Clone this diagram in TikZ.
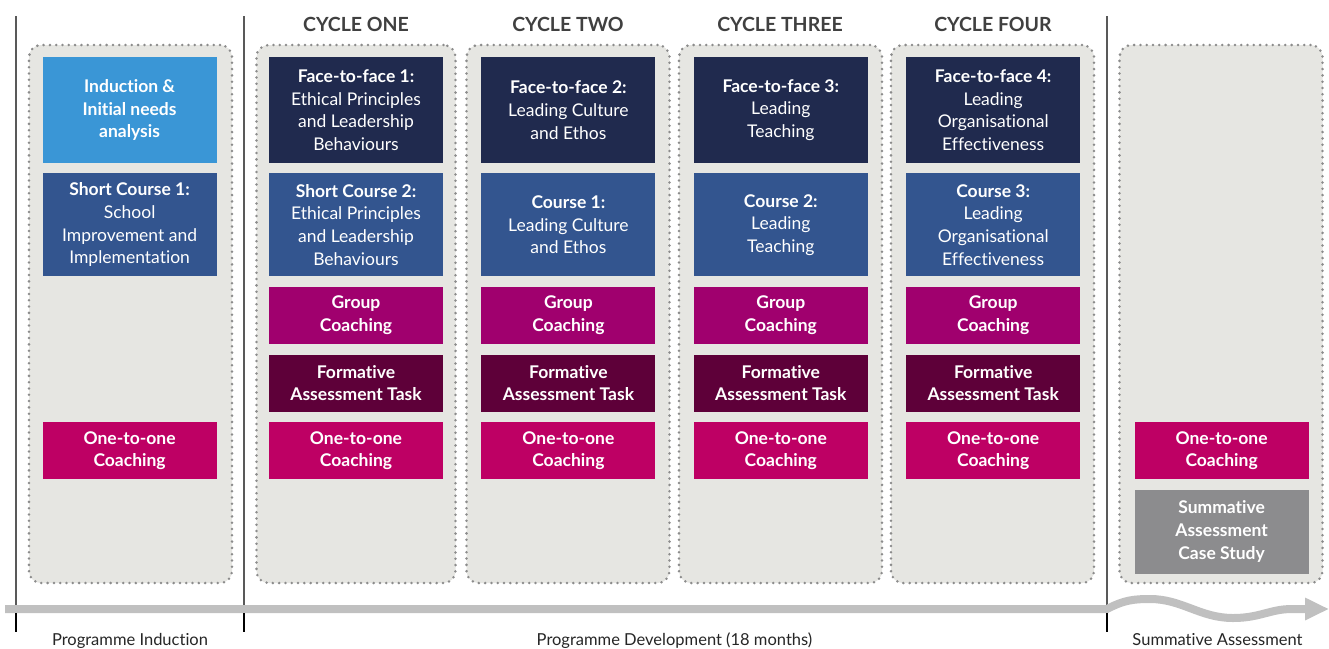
\documentclass[tikz,border=0pt]{standalone}
\usepackage{fontspec}
\setmainfont{Lato}[Ligatures=NoCommon]
\usetikzlibrary{positioning, arrows.meta}

\definecolor{inductblue}{HTML}{3A96D6}
\definecolor{facenavy}{HTML}{202A4E}
\definecolor{courseblue}{HTML}{33558F}
\definecolor{groupmag}{HTML}{A0006E}
\definecolor{formplum}{HTML}{5E0039}
\definecolor{onemag}{HTML}{BE0064}
\definecolor{summgray}{HTML}{8C8C8E}
\definecolor{panelgray}{HTML}{E6E6E2}
\definecolor{dotgray}{HTML}{8C8C8C}
\definecolor{bargray}{HTML}{C0C0C0}
\definecolor{headgray}{HTML}{404040}

\begin{document}
\begin{tikzpicture}[x=1pt, y=-1pt,
      panelnode/.style={rectangle, rounded corners=12pt, fill=panelgray, draw=dotgray, line width=2.8pt, dash pattern=on 0pt off 6.3pt, line cap=round, minimum width=203pt, minimum height=538pt},
      boxnode/.style={rectangle, text=white, inner sep=0pt, minimum width=174pt, align=center, font=\fontsize{17.5}{22.7}\selectfont},
      inductnode/.style={boxnode, fill=inductblue, minimum height=106pt},
      facenode/.style={boxnode, fill=facenavy, minimum height=106pt},
      coursenode/.style={boxnode, fill=courseblue, minimum height=103pt},
      groupnode/.style={boxnode, fill=groupmag, minimum height=57pt},
      formnode/.style={boxnode, fill=formplum, minimum height=57pt},
      onenode/.style={boxnode, fill=onemag, minimum height=57pt},
      summnode/.style={boxnode, fill=summgray, minimum height=84pt},
      headnode/.style={text=headgray, font=\fontsize{19.5}{22}\selectfont\bfseries},
      phasenode/.style={text=black!85, anchor=base, font=\fontsize{16.5}{18}\selectfont},
      timeline/.style={draw=bargray, line width=8pt, -{Triangle[length=24pt, width=21pt]}},
      ]
      \useasboundingbox[fill=white] (0,0) rectangle (1329,648);

      %Panels
      \node[panelnode] (panel0) at (130.5,314) {};
      \node[panelnode, minimum width=199pt] (panel1) at (356,314) {};
      \node[panelnode] (panel2) at (568,314) {};
      \node[panelnode] (panel3) at (780.5,314) {};
      \node[panelnode] (panel4) at (992.5,314) {};
      \node[panelnode] (panel5) at (1221,314) {};

      %Headings
      \node[headnode] (head1) at (356,24) {CYCLE ONE};
      \node[headnode] (head2) at (568,24) {CYCLE TWO};
      \node[headnode] (head3) at (780,24) {CYCLE THREE};
      \node[headnode] (head4) at (993,24) {CYCLE FOUR};

      %Nodes
      \node[facenode] (face1) at (356,110) {\textbf{Face-to-face 1:}\\Ethical Principles\\and Leadership\\Behaviours};
      \node[facenode] (face2) [right=38pt of face1] {\textbf{Face-to-face 2:}\\Leading Culture\\and Ethos};
      \node[facenode] (face3) [right=38pt of face2] {\textbf{Face-to-face 3:}\\Leading\\Teaching};
      \node[facenode] (face4) [right=38pt of face3] {\textbf{Face-to-face 4:}\\Leading\\Organisational\\Effectiveness};
      \node[inductnode] (induct) [left=52pt of face1] {\textbf{Induction \&}\\\textbf{Initial needs}\\\textbf{analysis}};

      \node[coursenode] (short2) [below=10pt of face1] {\textbf{Short Course 2:}\\Ethical Principles\\and Leadership\\Behaviours};
      \node[coursenode] (course1) [below=10pt of face2] {\textbf{Course 1:}\\Leading Culture\\and Ethos};
      \node[coursenode] (course2) [below=10pt of face3] {\textbf{Course 2:}\\Leading\\Teaching};
      \node[coursenode] (course3) [below=10pt of face4] {\textbf{Course 3:}\\Leading\\Organisational\\Effectiveness};
      \node[coursenode] (short1) [left=52pt of short2] {\textbf{Short Course 1:}\\School\\Improvement and\\Implementation};

      \node[groupnode] (group1) [below=10pt of short2] {\textbf{Group}\\\textbf{Coaching}};
      \node[groupnode] (group2) [below=10pt of course1] {\textbf{Group}\\\textbf{Coaching}};
      \node[groupnode] (group3) [below=10pt of course2] {\textbf{Group}\\\textbf{Coaching}};
      \node[groupnode] (group4) [below=10pt of course3] {\textbf{Group}\\\textbf{Coaching}};

      \node[formnode] (form1) [below=10.5pt of group1] {\textbf{Formative}\\\textbf{Assessment Task}};
      \node[formnode] (form2) [below=10.5pt of group2] {\textbf{Formative}\\\textbf{Assessment Task}};
      \node[formnode] (form3) [below=10.5pt of group3] {\textbf{Formative}\\\textbf{Assessment Task}};
      \node[formnode] (form4) [below=10.5pt of group4] {\textbf{Formative}\\\textbf{Assessment Task}};

      \node[onenode] (one1) [below=10pt of form1] {\textbf{One-to-one}\\\textbf{Coaching}};
      \node[onenode] (one2) [below=10pt of form2] {\textbf{One-to-one}\\\textbf{Coaching}};
      \node[onenode] (one3) [below=10pt of form3] {\textbf{One-to-one}\\\textbf{Coaching}};
      \node[onenode] (one4) [below=10pt of form4] {\textbf{One-to-one}\\\textbf{Coaching}};
      \node[onenode] (one0) [left=52pt of one1] {\textbf{One-to-one}\\\textbf{Coaching}};
      \node[onenode] (one5) [right=54pt of one4] {\textbf{One-to-one}\\\textbf{Coaching}};
      \node[summnode] (summ) [below=10pt of one5] {\textbf{Summative}\\\textbf{Assessment}\\\textbf{Case Study}};

      %Phases
      \node[phasenode] (phase1) at (130,645) {Programme Induction};
      \node[phasenode] (phase2) at (674.5,645) {Programme Development (18 months)};
      \node[phasenode] (phase3) at (1217.5,645) {Summative Assessment};

      %Lines
      \draw[black!65, line width=1.2pt] (16,16) -- (16,608);
      \draw[black!65, line width=1.2pt] (244,16) -- (244,608);
      \draw[black!65, line width=1.2pt] (1107,16) -- (1107,608);

      \coordinate (tstart) at (5,609);
      \coordinate (tsplit) at (1107,609);
      \coordinate (tend) at (1329,609);
      \draw[timeline] (tstart) -- (tsplit)
        .. controls (1124,600) and (1134,599) .. (1150,599)
        .. controls (1182,599) and (1200,618) .. (1233,618)
        .. controls (1260,618) and (1270,609) .. (1292,609) -- (tend);

      \draw[black, line width=2pt] (16,613) -- (16,632);
      \draw[black, line width=2pt] (244,613) -- (244,632);
      \draw[black, line width=2pt] (1107,613) -- (1107,632);
    \end{tikzpicture}
\end{document}
